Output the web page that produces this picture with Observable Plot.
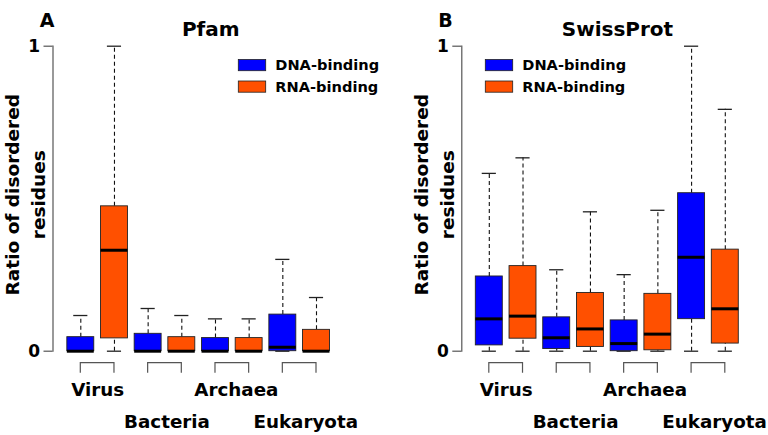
<!DOCTYPE html>
<html><head><meta charset="utf-8">
<script src="https://cdn.jsdelivr.net/npm/d3@7"></script>
<script src="https://cdn.jsdelivr.net/npm/@observablehq/plot@0.6"></script>
<style>
body{margin:0;background:#fff;}
#wrap{display:flex;width:768px;height:435px;overflow:hidden;}
#wrap svg{font-family:"DejaVu Sans",sans-serif;font-weight:bold;display:block;}
</style></head><body><div id="wrap"></div>
<script>
// ---- data ----
const groups = ["Virus", "Bacteria", "Archaea", "Eukaryota"];
const types = ["DNA-binding", "RNA-binding"];
const colors = ["#0000FF", "#FF5000"];
const yTicks = [0, 1];

// Pfam (panel A)
const pfamDNA_lo  = [0, 0, 0, 0];
const pfamDNA_q1  = [0, 0, 0, 0];
const pfamDNA_med = [0, 0, 0, 0.013];
const pfamDNA_q3  = [0.046, 0.057, 0.043, 0.120];
const pfamDNA_hi  = [0.117, 0.140, 0.106, 0.301];
const pfamRNA_lo  = [0, 0, 0, 0];
const pfamRNA_q1  = [0.042, 0, 0, 0];
const pfamRNA_med = [0.331, 0, 0, 0];
const pfamRNA_q3  = [0.475, 0.046, 0.043, 0.070];
const pfamRNA_hi  = [1.0, 0.117, 0.106, 0.176];

// SwissProt (panel B)
const spDNA_lo  = [0, 0, 0, 0];
const spDNA_q1  = [0.019, 0.007, 0, 0.105];
const spDNA_med = [0.106, 0.044, 0.025, 0.308];
const spDNA_q3  = [0.245, 0.111, 0.101, 0.518];
const spDNA_hi  = [0.583, 0.267, 0.251, 1.0];
const spRNA_lo  = [0, 0, 0, 0];
const spRNA_q1  = [0.041, 0.014, 0.003, 0.025];
const spRNA_med = [0.115, 0.073, 0.056, 0.139];
const spRNA_q3  = [0.279, 0.191, 0.188, 0.333];
const spRNA_hi  = [0.634, 0.457, 0.462, 0.793];

function buildRows(dna, rna) {
  const rows = [];
  groups.forEach((g, i) => {
    [dna, rna].forEach((s, t) => {
      rows.push({group: g, type: types[t], pos: 2 * i + t + 1,
        lo: s[0][i], q1: s[1][i], med: s[2][i], q3: s[3][i], hi: s[4][i]});
    });
  });
  return rows;
}

const pfamRows = buildRows(
  [pfamDNA_lo, pfamDNA_q1, pfamDNA_med, pfamDNA_q3, pfamDNA_hi],
  [pfamRNA_lo, pfamRNA_q1, pfamRNA_med, pfamRNA_q3, pfamRNA_hi]);
const spRows = buildRows(
  [spDNA_lo, spDNA_q1, spDNA_med, spDNA_q3, spDNA_hi],
  [spRNA_lo, spRNA_q1, spRNA_med, spRNA_q3, spRNA_hi]);

const groupRows = groups.map((g, i) => ({group: g, a: 2 * i + 1, b: 2 * i + 2, mid: 2 * i + 1.5 + i * 0.06, odd: i % 2}));

const BW = 0.40, CW = 0.21;

function bracketMark(index, scales) {
  const x = scales.x, y = scales.y;
  const g = d3.create("svg:g").attr("fill", "none").attr("stroke", "#555").attr("stroke-width", 1.2);
  const y0 = y(0);
  groupRows.forEach(r => {
    g.append("path").attr("d", `M${x(r.a)},${y0 + 22}V${y0 + 12}H${x(r.b)}V${y0 + 22}`);
  });
  return g.node();
}

function legendMark(x0) {
  return () => {
    const g = d3.create("svg:g");
    types.forEach((t, i) => {
      const yy = 59.5 + i * 21.5;
      g.append("rect").attr("x", x0).attr("y", yy).attr("width", 27.4).attr("height", 11.2)
        .attr("fill", colors[i]).attr("stroke", "#222").attr("stroke-width", 0.8);
      g.append("text").attr("x", x0 + 37).attr("y", yy + 5.6).attr("dy", "0.36em")
        .attr("text-anchor", "start")
        .attr("font-size", 14.6).attr("font-weight", "bold").attr("fill", "#000").text(t);
    });
    return g.node();
  };
}

function panel({letter, title, rows, xRange, marginLeft, titleDx, letterDx, legendX}) {
  return Plot.plot({
    width: 384, height: 435,
    marginLeft, marginRight: 0, marginTop: 45.7, marginBottom: 84.3,
    x: {domain: [1, 8], range: xRange, axis: null},
    y: {domain: [0, 1], axis: null},
    color: {domain: types, range: colors},
    style: {fontFamily: "DejaVu Sans", background: "transparent", overflow: "visible"},
    marks: [
      Plot.frame({anchor: "left", stroke: "#555", strokeWidth: 1.2}),
      Plot.axisY({ticks: yTicks, tickSize: 9, tickPadding: 4, tickFormat: d => String(d),
        fontSize: 17, fontWeight: "bold", stroke: "#555", strokeWidth: 1.2, fill: "#000", label: null}),
      // whiskers
      Plot.ruleX(rows, {x: "pos", y1: "q3", y2: "hi", stroke: "#111", strokeWidth: 1.1, strokeDasharray: "4,3"}),
      Plot.ruleX(rows, {x: "pos", y1: "lo", y2: "q1", stroke: "#111", strokeWidth: 1.1, strokeDasharray: "4,3"}),
      Plot.ruleY(rows, {y: "hi", x1: d => d.pos - CW, x2: d => d.pos + CW, stroke: "#222", strokeWidth: 1.3}),
      Plot.ruleY(rows, {y: "lo", x1: d => d.pos - CW, x2: d => d.pos + CW, stroke: "#222", strokeWidth: 1.3}),
      // boxes
      Plot.rect(rows, {x1: d => d.pos - BW, x2: d => d.pos + BW, y1: "q1", y2: "q3", fill: "type", stroke: "#222", strokeWidth: 0.9}),
      Plot.ruleY(rows, {y: "med", x1: d => d.pos - BW, x2: d => d.pos + BW, stroke: "#000", strokeWidth: 3}),
      // brackets & labels
      bracketMark,
      Plot.text(groupRows.filter(d => !d.odd), {x: "mid", y: () => 0, text: "group", dy: 39, fontSize: 18.3, fontWeight: "bold", fill: "#000"}),
      Plot.text(groupRows.filter(d => d.odd), {x: "mid", y: () => 0, text: "group", dy: 71, fontSize: 18.3, fontWeight: "bold", fill: "#000"}),
      // titles
      Plot.text([title], {frameAnchor: "top", dx: titleDx, dy: -24, fontSize: 20, fontWeight: "bold", fill: "#000"}),
      Plot.text([letter], {frameAnchor: "top-left", textAnchor: "middle", dx: letterDx, dy: -33, fontSize: 19, fontWeight: "bold", fill: "#000"}),
      Plot.text(["Ratio of disordered\nresidues"], {frameAnchor: "left", textAnchor: "middle", rotate: -90,
        dx: -29, dy: -4, fontSize: 18.5, lineHeight: 1.38, fontWeight: "bold", fill: "#000"}),
      legendMark(legendX)
    ]
  });
}

const wrap = document.getElementById("wrap");
wrap.append(panel({letter: "A", title: "Pfam", rows: pfamRows, xRange: [80.3, 316], marginLeft: 52.5,
  titleDx: -8, letterDx: -6, legendX: 238.3}));
wrap.append(panel({letter: "B", title: "SwissProt", rows: spRows, xRange: [104.8, 340.8], marginLeft: 77.3,
  titleDx: 2.3, letterDx: -16.3, legendX: 101.3}));
</script></body></html>
